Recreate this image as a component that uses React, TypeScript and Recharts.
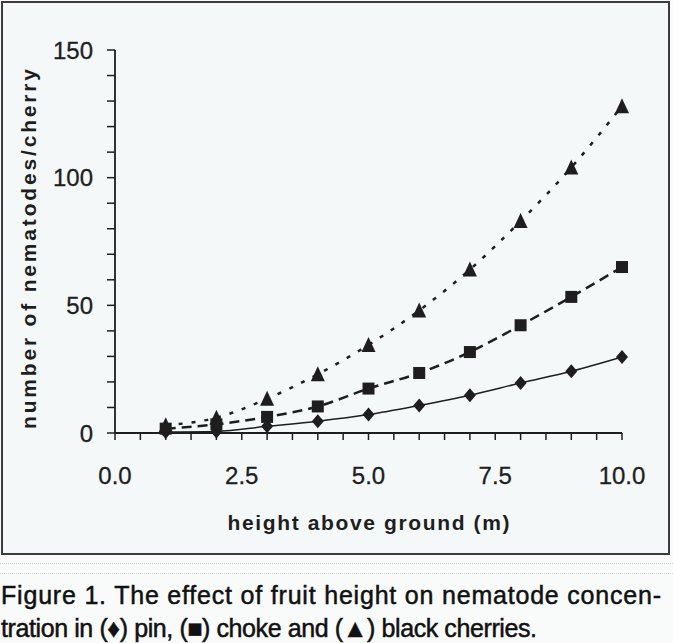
import React from "react";
import { LineChart, Line, XAxis, YAxis, Label } from "recharts";

// heights above ground (m)
const heights = [1, 2, 3, 4, 5, 6, 7, 8, 9, 10];
// nematodes per cherry
const pinCherry = [0.4, 0.6, 2.6, 4.6, 7.2, 10.8, 14.8, 19.6, 24.2, 29.8];
const chokeCherry = [1.7, 3.4, 6.3, 10.4, 17.4, 23.5, 31.7, 42.2, 53.3, 65];
const blackCherry = [3, 6, 13.4, 23, 34.5, 48, 64, 83, 104, 128];

const xTicks = [0, 0.5, 1, 1.5, 2, 2.5, 3, 3.5, 4, 4.5, 5, 5.5, 6, 6.5, 7, 7.5, 8, 8.5, 9, 9.5, 10];
const xLabels = [0, 2.5, 5, 7.5, 10];
const yTicks = [0, 10, 20, 30, 40, 50, 60, 70, 80, 90, 100, 110, 120, 130, 140, 150];
const yLabels = [0, 50, 100, 150];

const data = heights.map((h, i) => ({
  h,
  pin: pinCherry[i],
  choke: chokeCherry[i],
  black: blackCherry[i],
}));

const ink = "#1e1e1e";
const font = "'Liberation Sans', Arial, sans-serif";

const XTick = (props: any) => {
  const { x, y, payload } = props;
  if (!xLabels.includes(payload.value)) return <g />;
  return (
    <text x={x} y={y + 44} textAnchor="middle" fontSize={24} fontFamily={font} fill={ink} stroke={ink} strokeWidth={0.3}>
      {payload.value.toFixed(1)}
    </text>
  );
};

const YTick = (props: any) => {
  const { x, y, payload } = props;
  if (!yLabels.includes(payload.value)) return <g />;
  return (
    <text x={x} y={y + 8.5} textAnchor="end" fontSize={24} fontFamily={font} fill={ink} stroke={ink} strokeWidth={0.3}>
      {payload.value}
    </text>
  );
};

const XTitle = (props: any) => {
  const vb = props.viewBox || { x: 112, y: 430, width: 507, height: 60 };
  return (
    <text
      x={vb.x + vb.width / 2}
      y={vb.y + 97}
      textAnchor="middle"
      fontSize={21}
      fontWeight="bold"
      fontFamily={font}
      fill={ink}
      textLength={282}
      lengthAdjust="spacing"
    >
      height above ground (m)
    </text>
  );
};

const YTitle = () => (
  <text
    transform="translate(25, 246) rotate(-90)"
    textAnchor="middle"
    dominantBaseline="central"
    fontSize={21}
    fontWeight="bold"
    fontFamily={font}
    fill={ink}
    textLength={360}
    lengthAdjust="spacing"
  >
    number of nematodes/cherry
  </text>
);

const Diamond = (props: any) => {
  const { cx, cy } = props;
  return <polygon points={`${cx},${cy - 7} ${cx + 6},${cy} ${cx},${cy + 7} ${cx - 6},${cy}`} fill={ink} />;
};

const Square = (props: any) => {
  const { cx, cy } = props;
  return <rect x={cx - 6} y={cy - 6} width={12} height={12} fill={ink} />;
};

const Triangle = (props: any) => {
  const { cx, cy } = props;
  return <polygon points={`${cx},${cy - 8} ${cx + 7},${cy + 7} ${cx - 7},${cy + 7}`} fill={ink} />;
};

export default function App() {
  return (
    <div style={{ position: "absolute", left: 0, top: 0, width: 673, height: 643, background: "#f9fbfb", overflow: "hidden" }}>
      <div
        style={{
          position: "absolute",
          left: 1,
          top: 1,
          width: 669,
          height: 554,
          boxSizing: "border-box",
          border: "2px solid #3c3c3c",
          background: "#f4f8f8",
        }}
      >
        <LineChart width={665} height={550} data={data} margin={{ top: 47, right: 46, left: 52, bottom: 60 }}>
          <XAxis
            dataKey="h"
            type="number"
            domain={[0, 10]}
            ticks={xTicks}
            interval={0}
            tickSize={7}
            tickMargin={0}
            height={60}
            tick={<XTick />}
            axisLine={{ stroke: ink, strokeWidth: 1.8 }}
            tickLine={{ stroke: ink, strokeWidth: 1.5 }}
          >
            <Label content={XTitle} />
          </XAxis>
          <YAxis
            type="number"
            domain={[0, 150]}
            ticks={yTicks}
            interval={0}
            tickSize={8}
            tickMargin={14}
            width={60}
            tick={<YTick />}
            axisLine={{ stroke: ink, strokeWidth: 1.8 }}
            tickLine={{ stroke: ink, strokeWidth: 1.5 }}
          >
            <Label content={YTitle} />
          </YAxis>
          <Line type="monotone" dataKey="pin" stroke={ink} strokeWidth={1.5} dot={<Diamond />} isAnimationActive={false} />
          <Line
            type="monotone"
            dataKey="choke"
            stroke={ink}
            strokeWidth={2.5}
            strokeDasharray="10 6"
            dot={<Square />}
            isAnimationActive={false}
          />
          <Line
            type="monotone"
            dataKey="black"
            stroke={ink}
            strokeWidth={2.5}
            strokeDasharray="4 9"
            dot={<Triangle />}
            isAnimationActive={false}
          />
        </LineChart>
      </div>
      <div style={{ position: "absolute", left: 0, top: 563, width: 673, borderTop: "1px dotted #c8cccc" }} />
      <div style={{ position: "absolute", left: 0, top: 573, width: 673, borderTop: "1px dotted #d4d8d8" }} />
      <svg width={673} height={89} style={{ position: "absolute", left: 0, top: 554 }}>
        <text x={1} y={50} fontSize={25} fontFamily={font} fill="#111" stroke="#111" strokeWidth={0.5} textLength={660} lengthAdjust="spacing">
          Figure 1. The effect of fruit height on nematode concen-
        </text>
        <text x={1} y={83} fontSize={25} fontFamily={font} fill="#111" stroke="#111" strokeWidth={0.5} textLength={536} lengthAdjust="spacing">
          tration in (♦) pin, (■) choke and (▲) black cherries.
        </text>
      </svg>
    </div>
  );
}
